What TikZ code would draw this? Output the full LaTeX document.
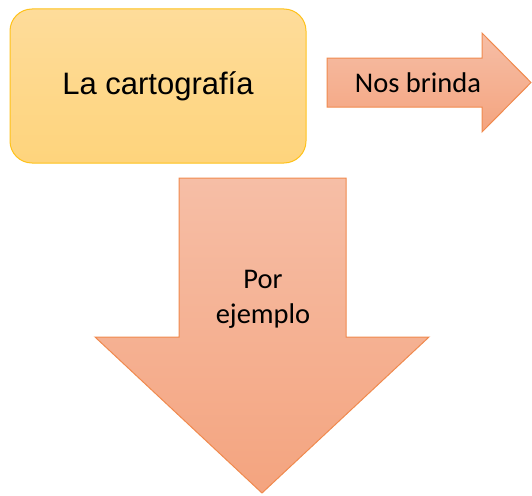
\documentclass[tikz,border=0pt]{standalone}
\usepackage{fontspec}
\setmainfont{Carlito}
\newfontfamily\arialfont{Liberation Sans}
\definecolor{boxline}{HTML}{FFC21A}
\definecolor{boxtop}{HTML}{FEDC9A}
\definecolor{boxbottom}{HTML}{FED47C}
\definecolor{arrowline}{HTML}{F08A4E}
\definecolor{arrowtop}{HTML}{F6BEA6}
\definecolor{arrowbottom}{HTML}{F4A47F}
\tikzset{
    box/.style ={
        rectangle,               % caja
        rounded corners = 22pt,  % esquinas redondeadas
        minimum width   = 296pt, % ancho
        minimum height  = 154pt, % alto
        draw = boxline,          % borde
        line width = 1pt,
        top color = boxtop,
        bottom color = boxbottom,
        font = \arialfont\fontsize{31}{37}\selectfont
    },
    flecha/.style ={
        draw = arrowline,        % borde naranja
        line width = 1pt,
        line join = miter,
        top color = arrowtop,
        bottom color = arrowbottom
    },
    rotulo/.style ={
        align = center,
        font = \fontsize{28.5}{35}\selectfont
    }
}
\begin{document}
\begin{tikzpicture}[x=1pt, y=-1pt]
    \useasboundingbox (0,0) rectangle (532,495);
    \node[box] (carto) at (158,86) {La cartografía};
    \draw[flecha] (327,58) -- (482,58) -- (482,33) -- (531,82.5)
        -- (482,132) -- (482,107) -- (327,107) -- cycle;
    \draw[flecha] (179,178) -- (346,178) -- (346,337) -- (429,337)
        -- (262,493) -- (95,337) -- (179,337) -- cycle;
    \node[rotulo] (brinda) at (418,83) {Nos brinda};
    \node[rotulo] (ejemplo) at (263,299) {Por\\ejemplo};
\end{tikzpicture}
\end{document}
